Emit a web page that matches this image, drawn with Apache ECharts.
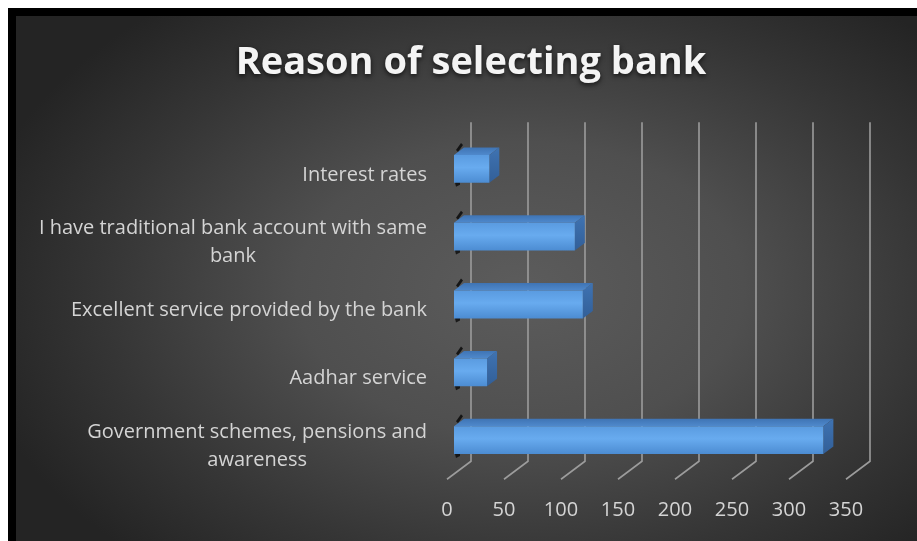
<!DOCTYPE html>
<html>
<head>
<meta charset="utf-8">
<script src="https://cdn.jsdelivr.net/npm/echarts@6/dist/echarts.min.js"></script>
<style>
  html, body { margin: 0; padding: 0; background: #fff; }
  #wrap { position: relative; width: 917px; height: 541px; background: #fff; overflow: hidden; }
  #frame { position: absolute; left: 8px; top: 8px; right: 0; bottom: 0; background: #000; }
  #panel { position: absolute; left: 16px; top: 16px; right: 0; bottom: 0;
    background: radial-gradient(ellipse 62% 70% at 56% 52%, #5c5c5c 0%, #4f4f4f 40%, #353535 75%, #242424 100%); }
  #chart { position: absolute; left: 0; top: 0; width: 917px; height: 541px; }
</style>
</head>
<body>
<div id="wrap">
  <div id="frame"></div>
  <div id="panel"></div>
  <div id="chart"></div>
</div>
<script>
// Survey answers, listed bottom to top as drawn on the category axis
const categories = [
  'Government schemes, pensions and\nawareness',
  'Aadhar service',
  'Excellent service provided by the bank',
  'I have traditional bank account with same\nbank',
  'Interest rates'
];
const counts = [324, 29, 113, 106, 31];
const xTicks = [0, 50, 100, 150, 200, 250, 300, 350];

// Oblique 3D projection: depth direction moves right and up
const DEPTH_X = 1, DEPTH_Y = -0.75;
const BAR_DEPTH = 10;     // thickness of each bar along depth
const WALL_DEPTH = 17;    // back wall behind the bar front plane
const FLOOR_FRONT = -7;   // floor front edge in front of the bar plane

const chart = echarts.init(document.getElementById('chart'), null, { renderer: 'canvas' });

const labelFont = 'Open Sans';

function renderGrid(params, api) {
  const t = api.value(0);
  const cs = params.coordSys;
  const x = api.coord([t, 0])[0];
  const top = cs.y, bottom = cs.y + cs.height;
  const wx = x + WALL_DEPTH * DEPTH_X, wy = WALL_DEPTH * DEPTH_Y;
  const fx = x + FLOOR_FRONT * DEPTH_X, fy = FLOOR_FRONT * DEPTH_Y;
  return {
    type: 'polyline',
    shape: { points: [[wx, top + wy], [wx, bottom + wy], [fx, bottom + fy]] },
    style: { stroke: '#9c9c9c', lineWidth: 1.6, fill: null },
    silent: true
  };
}

function renderBar(params, api) {
  const idx = api.value(0);
  const v = api.value(1);
  const p0 = api.coord([0, idx]);
  const p1 = api.coord([v, idx]);
  const band = api.size([0, 1])[1];
  const h = band * 0.41;
  const x0 = p0[0], x1 = p1[0];
  const top = p0[1] - h / 2, bot = p0[1] + h / 2;
  const dx = BAR_DEPTH * DEPTH_X, dy = BAR_DEPTH * DEPTH_Y;
  return {
    type: 'group',
    children: [
      // soft dark shadow at the bar's left end
      {
        type: 'polygon',
        shape: { points: [[x0 + 2, top - 5], [x0 + 7, top - 12], [x0 + 9, top - 10], [x0 + 4, top - 3]] },
        style: { fill: 'rgba(0,0,0,0.75)' }
      },
      {
        type: 'polygon',
        shape: { points: [[x0 + 1, bot], [x0 + 6, bot - 3], [x0 + 6, bot + 2], [x0 + 2, bot + 4]] },
        style: { fill: 'rgba(0,0,0,0.7)' }
      },
      // top face
      {
        type: 'polygon',
        shape: { points: [[x0, top], [x0 + dx, top + dy], [x1 + dx, top + dy], [x1, top]] },
        style: {
          fill: new echarts.graphic.LinearGradient(0, 1, 0, 0, [
            { offset: 0, color: '#4f89cc' },
            { offset: 1, color: '#3f74b4' }
          ])
        }
      },
      // right end face
      {
        type: 'polygon',
        shape: { points: [[x1, top], [x1 + dx, top + dy], [x1 + dx, bot + dy], [x1, bot]] },
        style: {
          fill: new echarts.graphic.LinearGradient(0, 0, 0, 1, [
            { offset: 0, color: '#3f73b2' },
            { offset: 1, color: '#325f98' }
          ])
        }
      },
      // front face
      {
        type: 'rect',
        shape: { x: x0, y: top, width: x1 - x0, height: bot - top },
        style: {
          fill: new echarts.graphic.LinearGradient(0, 0, 0, 1, [
            { offset: 0, color: '#5a9be0' },
            { offset: 0.45, color: '#68abef' },
            { offset: 1, color: '#4c8cd2' }
          ])
        }
      }
    ]
  };
}

chart.setOption({
  backgroundColor: 'transparent',
  animation: false,
  title: {
    text: 'Reason of selecting bank',
    left: 466,
    top: 39,
    textAlign: 'center',
    textStyle: {
      color: '#f4f4f4',
      fontFamily: labelFont,
      fontWeight: 'bold',
      fontSize: 38,
      textShadowColor: 'rgba(0,0,0,0.7)',
      textShadowBlur: 5,
      textShadowOffsetY: 2
    }
  },
  grid: { left: 454, right: 64, top: 135, bottom: 67, containLabel: false },
  xAxis: {
    type: 'value',
    min: 0,
    max: 350,
    interval: 50,
    axisLine: { show: false },
    axisTick: { show: false },
    splitLine: { show: false },
    axisLabel: {
      color: '#d4d4d4',
      fontFamily: labelFont,
      fontSize: 20,
      margin: 26,
      padding: [0, 14, 0, 0],
      customValues: xTicks
    }
  },
  yAxis: {
    type: 'category',
    data: categories,
    axisLine: { show: false },
    axisTick: { show: false },
    splitLine: { show: false },
    axisLabel: {
      margin: 27,
      padding: [12, 0, 0, 0],
      formatter: function (name) {
        return name.split('\n').map(function (l) { return '{c|' + l + '}'; }).join('\n');
      },
      rich: {
        c: {
          align: 'center',
          color: '#d4d4d4',
          fontFamily: labelFont,
          fontSize: 20,
          lineHeight: 28
        }
      }
    }
  },
  series: [
    {
      type: 'custom',
      name: 'grid',
      renderItem: renderGrid,
      data: xTicks.map(function (t) { return [t, 0]; }),
      encode: { x: 0, y: 1 },
      silent: true,
      z: 1
    },
    {
      type: 'custom',
      name: 'Responses',
      renderItem: renderBar,
      data: counts.map(function (v, i) { return [i, v]; }),
      encode: { x: 1, y: 0 },
      z: 3
    }
  ]
});
</script>
</body>
</html>
